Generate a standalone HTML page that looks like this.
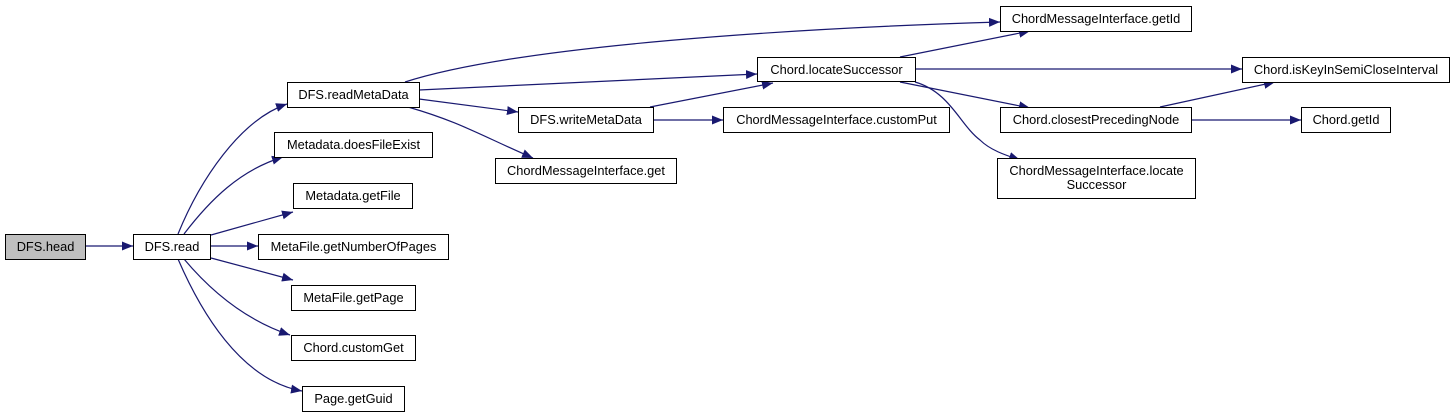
<!DOCTYPE html>
<html><head><meta charset="utf-8"><style>
html,body{margin:0;padding:0;background:#fff;}
svg{display:block;}
text{font-family:"Liberation Sans",Arial,sans-serif;font-size:12.8px;fill:#000;}
</style></head><body>
<svg width="1455" height="417" viewBox="0 0 1455 417" xmlns="http://www.w3.org/2000/svg">
<defs>
<marker id="a" markerUnits="userSpaceOnUse" markerWidth="12" markerHeight="10" refX="11" refY="5" orient="auto">
<polygon points="0,0.5 11,5 0,9.5" fill="#191970"/>
</marker>
</defs>
<g fill="none" stroke="#191970" stroke-width="1.2" marker-end="url(#a)">
<path d="M85,246 L133,246"/>
<path d="M178,234 C200,180 240,120 287,104"/>
<path d="M184,234 C210,200 240,170 283,157"/>
<path d="M211,235 L293,212"/>
<path d="M210,246 L258,246"/>
<path d="M211,258 L293,280"/>
<path d="M184,259 C210,290 245,320 290,335"/>
<path d="M178,259 C200,310 240,380 302,391"/>
<path d="M405,82 C520,45 800,28 1000,22"/>
<path d="M419,90 L757,74"/>
<path d="M419,99 L518,112"/>
<path d="M408,107 C460,122 480,135 533,158"/>
<path d="M650,107 L773,83"/>
<path d="M653,120 L723,120"/>
<path d="M900,57 L1030,31"/>
<path d="M915,69 L1242,69"/>
<path d="M900,82 L1030,108"/>
<path d="M915,82 C950,92 960,125 980,140 C990,150 1005,155 1020,160"/>
<path d="M1160,107 L1275,82"/>
<path d="M1191,120 L1301,120"/>
</g>
<g stroke="#000" stroke-width="1" fill="#fff">
<rect x="5.5" y="234.5" width="80" height="25" fill="#bfbfbf"/>
<rect x="133.5" y="234.5" width="77" height="25"/>
<rect x="287.5" y="82.5" width="132" height="25"/>
<rect x="274.5" y="132.5" width="158" height="25"/>
<rect x="293.5" y="183.5" width="119" height="25"/>
<rect x="258.5" y="234.5" width="190" height="25"/>
<rect x="291.5" y="285.5" width="124" height="25"/>
<rect x="291.5" y="335.5" width="124" height="25"/>
<rect x="302.5" y="386.5" width="102" height="25"/>
<rect x="757.5" y="57.5" width="158" height="24"/>
<rect x="518.5" y="107.5" width="135" height="25"/>
<rect x="723.5" y="107.5" width="226" height="25"/>
<rect x="495.5" y="158.5" width="181" height="25"/>
<rect x="1000.5" y="6.5" width="191" height="25"/>
<rect x="1242.5" y="57.5" width="207" height="25"/>
<rect x="1000.5" y="107.5" width="191" height="25"/>
<rect x="1301.5" y="107.5" width="89" height="25"/>
<rect x="997.5" y="158.5" width="198" height="40"/>
</g>
<g text-anchor="middle">
<text x="45.5" y="251">DFS.head</text>
<text x="172" y="251">DFS.read</text>
<text x="353.5" y="99">DFS.readMetaData</text>
<text x="353.5" y="149">Metadata.doesFileExist</text>
<text x="353" y="200">Metadata.getFile</text>
<text x="353.5" y="251">MetaFile.getNumberOfPages</text>
<text x="353.5" y="302">MetaFile.getPage</text>
<text x="353.5" y="352">Chord.customGet</text>
<text x="353.5" y="403">Page.getGuid</text>
<text x="836.5" y="74">Chord.locateSuccessor</text>
<text x="586" y="124">DFS.writeMetaData</text>
<text x="836.5" y="124">ChordMessageInterface.customPut</text>
<text x="586" y="175">ChordMessageInterface.get</text>
<text x="1096" y="23">ChordMessageInterface.getId</text>
<text x="1346" y="74">Chord.isKeyInSemiCloseInterval</text>
<text x="1096" y="124">Chord.closestPrecedingNode</text>
<text x="1346" y="124">Chord.getId</text>
<text x="1096.5" y="175">ChordMessageInterface.locate</text>
<text x="1096.5" y="189">Successor</text>
</g>
</svg>
</body></html>
